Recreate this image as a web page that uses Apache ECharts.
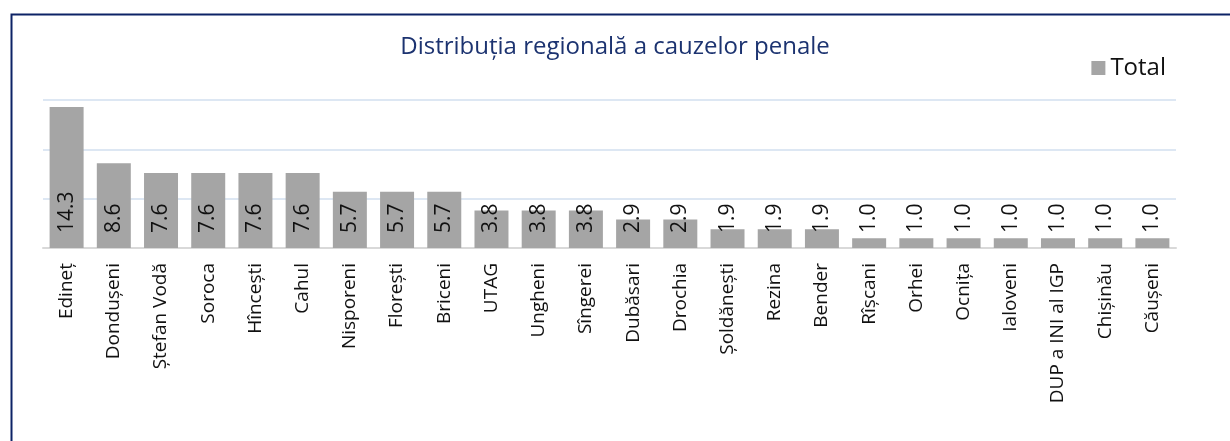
<!DOCTYPE html>
<html>
<head>
<meta charset="utf-8">
<script src="https://cdn.jsdelivr.net/npm/echarts@6/dist/echarts.min.js"></script>
<style>
html,body{margin:0;padding:0;background:#fff;}
#c{width:1230px;height:441px;}
</style>
</head>
<body>
<div id="c"></div>
<script>
const categories = ["Edineț","Dondușeni","Ștefan Vodă","Soroca","Hîncești","Cahul","Nisporeni","Florești","Briceni","UTAG","Ungheni","Sîngerei","Dubăsari","Drochia","Șoldănești","Rezina","Bender","Rîșcani","Orhei","Ocnița","Ialoveni","DUP a INI al IGP","Chișinău","Căușeni"];
const totals = [14.3,8.6,7.6,7.6,7.6,7.6,5.7,5.7,5.7,3.8,3.8,3.8,2.9,2.9,1.9,1.9,1.9,1.0,1.0,1.0,1.0,1.0,1.0,1.0];
const seriesName = "Total";
const titleText = "Distribuția regională a cauzelor penale";

const FONT = "Open Sans";
const chart = echarts.init(document.getElementById('c'), null, {renderer:'canvas'});
chart.setOption({
  animation:false,
  backgroundColor:'#fff',
  graphic:[{
    type:'rect', left:9, top:12, silent:true,
    shape:{width:1300, height:500},
    style:{fill:'none', stroke:'#0d2366', lineWidth:2}
  }],
  title:{
    text:titleText, left:'center', top:30,
    textStyle:{fontFamily:FONT, fontSize:24, fontWeight:'normal', color:'#1c3370'}
  },
  legend:{
    data:[seriesName], right:59, top:51,
    icon:'rect', itemWidth:14, itemHeight:14, itemGap:6,
    textStyle:{fontFamily:FONT, fontSize:24, color:'#111'}
  },
  grid:{left:43, right:54, top:100, bottom:193, containLabel:false},
  xAxis:{
    type:'category', data:categories,
    axisLine:{lineStyle:{color:'#d9d9d9', width:2}},
    axisTick:{show:false},
    axisLabel:{rotate:90, interval:0, fontFamily:FONT, fontSize:19, color:'#111', margin:15}
  },
  yAxis:{
    type:'value', min:0, max:15, interval:5,
    axisLabel:{show:false}, axisLine:{show:false}, axisTick:{show:false},
    splitLine:{lineStyle:{color:'#dde7f3', width:2}}
  },
  series:[{
    name:seriesName, type:'bar', data:totals,
    barCategoryGap:'28%',
    itemStyle:{color:'#a5a5a5'},
    label:{
      show:true, position:'insideBottom', rotate:90, align:'left', verticalAlign:'middle',
      distance:15, fontFamily:FONT, fontSize:21, color:'#111',
      formatter:p=>p.value.toFixed(1)
    }
  }]
});
</script>
</body>
</html>
